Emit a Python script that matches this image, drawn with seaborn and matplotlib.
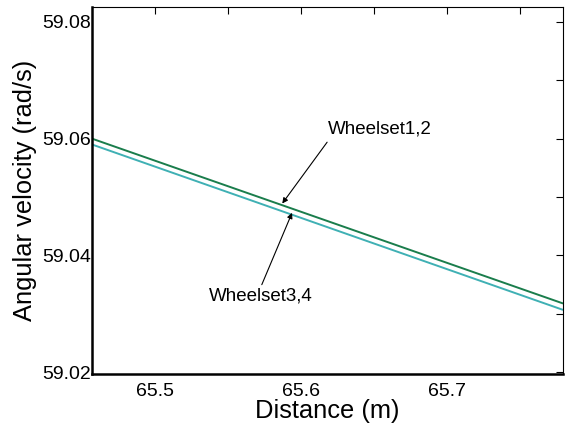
import matplotlib
matplotlib.use("Agg")
import matplotlib.pyplot as plt
import seaborn as sns
import pandas as pd
from matplotlib.ticker import MultipleLocator, FormatStrFormatter

sns.set_theme(style="white")
plt.rcParams['font.family'] = ['Liberation Sans', 'DejaVu Sans']

distance = [65.457, 65.779]
wheelset12 = [59.0600, 59.0318]
wheelset34 = [59.0590, 59.0307]
series_names = ["Wheelset1,2", "Wheelset3,4"]
colors = ["#1a7d4c", "#3fb0b4"]

df = pd.DataFrame({
    "Distance": distance * 2,
    "Omega": wheelset12 + wheelset34,
    "Series": [series_names[0]] * 2 + [series_names[1]] * 2,
})

fig = plt.figure(figsize=(5.65, 4.25), dpi=100)
ax = fig.add_axes([0.163, 0.12, 0.833, 0.8628])
sns.lineplot(data=df, x="Distance", y="Omega", hue="Series", palette=colors,
             ax=ax, legend=False, linewidth=1.4)

ax.set_xlim(65.457, 65.779)
ax.set_ylim(59.0197, 59.0825)
ax.xaxis.set_major_locator(MultipleLocator(0.1))
ax.xaxis.set_minor_locator(MultipleLocator(0.05))
ax.yaxis.set_major_locator(MultipleLocator(0.02))
ax.yaxis.set_minor_locator(MultipleLocator(0.01))
ax.xaxis.set_major_formatter(FormatStrFormatter('%.1f'))
ax.yaxis.set_major_formatter(FormatStrFormatter('%.2f'))

ax.tick_params(which='both', direction='in', top=True, right=True,
               length=5, width=0.8, color='black', labelsize=14,
               labelcolor='black')
ax.tick_params(axis='x', which='major', pad=6.5)
ax.tick_params(axis='y', which='major', pad=0.8)
for side, sp in ax.spines.items():
    sp.set_color('black')
    sp.set_linewidth(1.8 if side in ('left', 'bottom') else 0.8)

ax.set_xlabel("Distance (m)", fontsize=18.4, color='black', labelpad=-1)
ax.set_ylabel("Angular velocity (rad/s)", fontsize=18.4, color='black', labelpad=4)

ax.text(65.6185, 59.0616, series_names[0], fontsize=13.5, color='black',
        ha='left', va='center')
ax.annotate("", xy=(65.5871, 59.0489), xytext=(65.6178, 59.0594),
            arrowprops=dict(arrowstyle='-|>', color='black', lw=0.8,
                            mutation_scale=8, shrinkA=0, shrinkB=0))
ax.text(65.5366, 59.0331, series_names[1], fontsize=13.5, color='black',
        ha='left', va='center')
ax.annotate("", xy=(65.5938, 59.0473), xytext=(65.5731, 59.0350),
            arrowprops=dict(arrowstyle='-|>', color='black', lw=0.8,
                            mutation_scale=8, shrinkA=0, shrinkB=0))

fig.savefig("out.png", dpi=100)
